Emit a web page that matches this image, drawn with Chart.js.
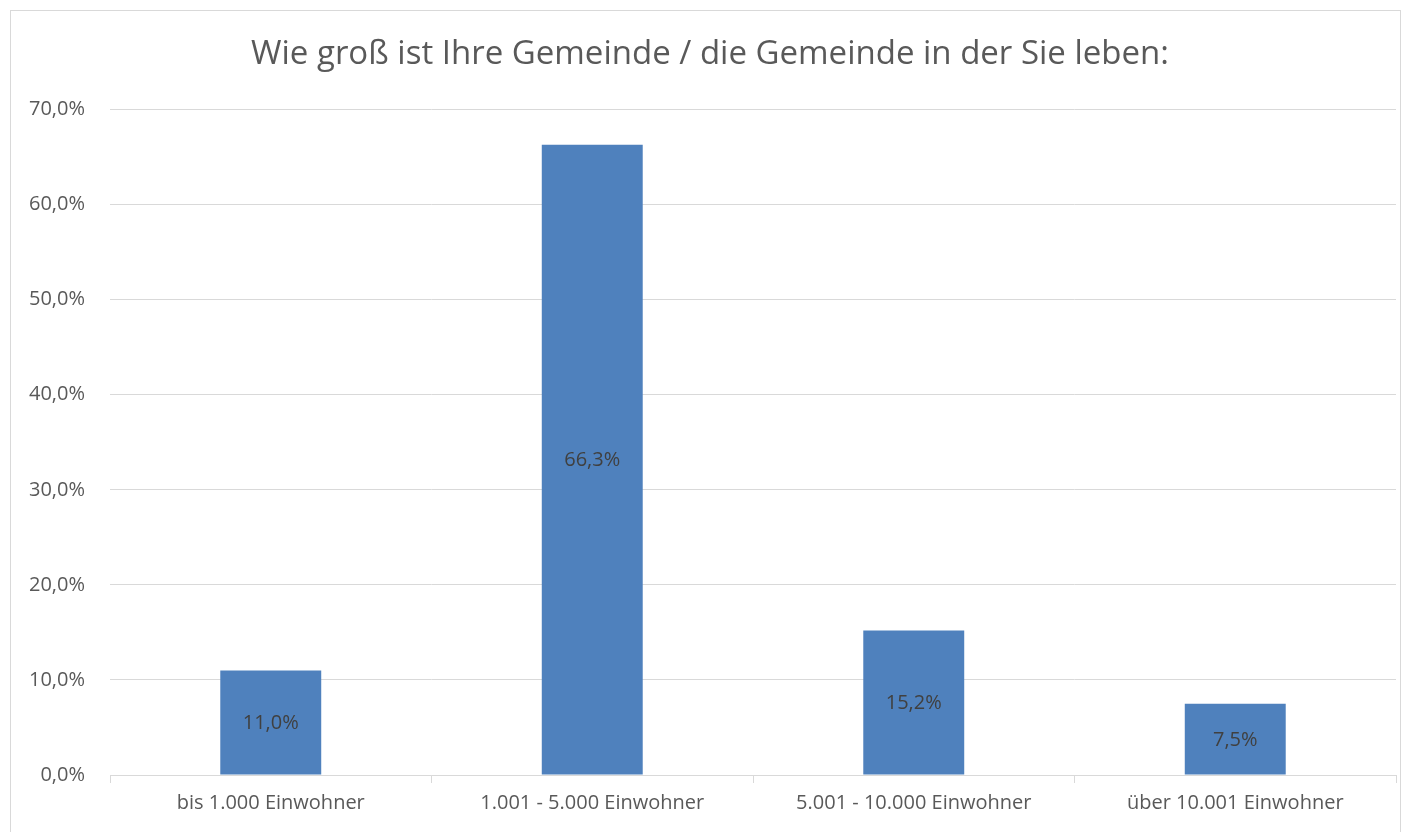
<!DOCTYPE html>
<html>
<head>
<meta charset="utf-8">
<script src="https://cdn.jsdelivr.net/npm/chart.js@4.4.1/dist/chart.umd.min.js"></script>
<style>
  html, body { margin: 0; padding: 0; background: #fff; }
  #wrap { width: 1409px; height: 832px; }
</style>
</head>
<body>
<div id="wrap"><canvas id="myChart" width="1409" height="832"></canvas></div>
<script>
var categories = ['bis 1.000 Einwohner', '1.001 - 5.000 Einwohner', '5.001 - 10.000 Einwohner', 'über 10.001 Einwohner'];
var shares = [0.110, 0.663, 0.152, 0.075];
var yTicks = [0, 0.1, 0.2, 0.3, 0.4, 0.5, 0.6, 0.7];
var chartTitle = 'Wie groß ist Ihre Gemeinde / die Gemeinde in der Sie leben:';

var FONT = '"Open Sans"';

function pct(v) {
    return (v * 100).toFixed(1).replace('.', ',') + '%';
}

// frame round the chart, like the office export
const frame = {
    id: 'frame',
    beforeDraw(chart) {
        const ctx = chart.ctx;
        ctx.save();
        ctx.fillStyle = '#fff';
        ctx.fillRect(0, 0, chart.width, chart.height);
        ctx.strokeStyle = '#d9d9d9';
        ctx.lineWidth = 1;
        ctx.strokeRect(10.5, 10.5, 1390, 900);
        ctx.restore();
    }
};

// value labels in the middle of each bar
const barLabels = {
    id: 'barLabels',
    afterDatasetsDraw(chart) {
        const ctx = chart.ctx;
        const meta = chart.getDatasetMeta(0);
        ctx.save();
        ctx.fillStyle = '#404040';
        ctx.font = '20px ' + FONT;
        ctx.textAlign = 'center';
        ctx.textBaseline = 'middle';
        meta.data.forEach(function (bar, i) {
            const p = bar.getProps(['x', 'y', 'base'], true);
            ctx.fillText(pct(shares[i]), p.x, (p.y + p.base) / 2 + 1);
        });
        ctx.restore();
    }
};

const config = {
    type: 'bar',
    data: {
        labels: categories,
        datasets: [{
            data: shares,
            backgroundColor: '#4f81bd',
            borderWidth: 0,
            barPercentage: 0.314,
            categoryPercentage: 1
        }]
    },
    plugins: [frame, barLabels],
    options: {
        responsive: false,
        animation: false,
        layout: { padding: { left: 24, right: 13, top: 0, bottom: 0 } },
        plugins: {
            legend: { display: false },
            tooltip: { enabled: false },
            title: {
                display: true,
                text: chartTitle,
                color: '#595959',
                font: { family: FONT, size: 33, weight: 'normal' },
                padding: { top: 35, bottom: 35 }
            }
        },
        scales: {
            y: {
                min: 0,
                max: 0.7,
                afterBuildTicks(scale) {
                    scale.ticks = yTicks.map(function (v) { return { value: v }; });
                },
                afterFit(scale) { scale.width = 86; },
                grid: { color: '#d9d9d9', drawTicks: false },
                border: { display: false },
                ticks: {
                    color: '#595959',
                    padding: 25,
                    font: { family: FONT, size: 20 },
                    callback: function (v) { return pct(v); }
                }
            },
            x: {
                afterFit(scale) { scale.height = 57; },
                grid: { offset: true, drawOnChartArea: false, drawTicks: true, tickLength: 8, color: '#d9d9d9' },
                border: { display: true, color: '#d9d9d9' },
                ticks: {
                    color: '#595959',
                    padding: 8,
                    font: { family: FONT, size: 20 }
                }
            }
        }
    }
};

new Chart(document.getElementById('myChart'), config);
</script>
</body>
</html>
